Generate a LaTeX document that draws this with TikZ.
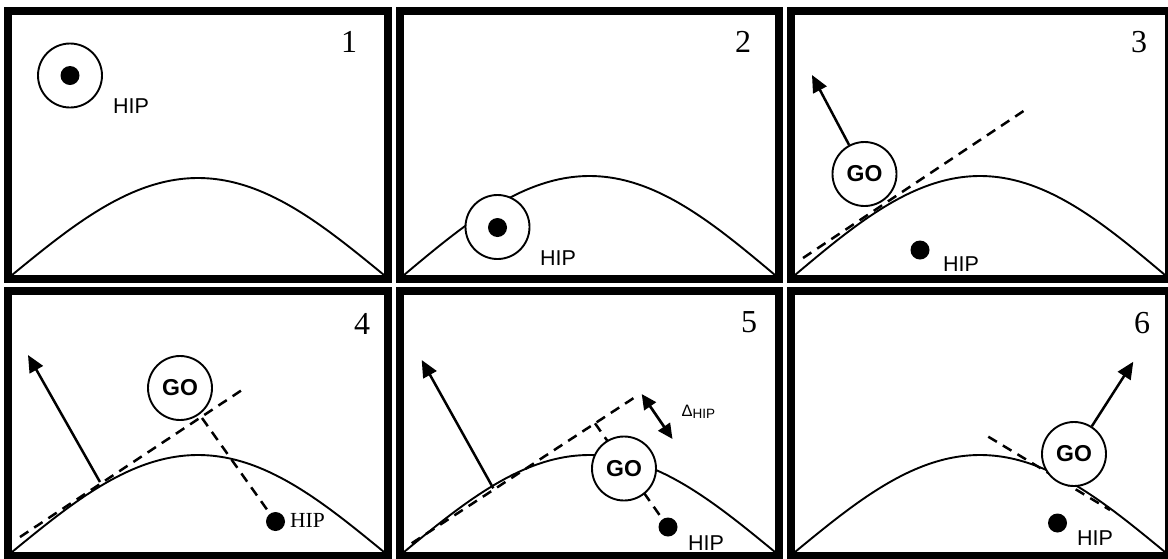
\documentclass[tikz,border=0pt]{standalone}
\usepackage{fontspec}
\setmainfont{Liberation Serif}
\newfontfamily\arialf{Liberation Sans}
\usetikzlibrary{arrows.meta}
\tikzset{
 frame/.style={line width=8pt},
 curve/.style={line width=1.9pt},
 tang/.style={line width=2.5pt, dash pattern=on 10pt off 7pt},
 arr/.style={line width=2.5pt, -{Triangle[length=17pt,width=15pt]}},
 darr/.style={line width=2.7pt, {Triangle[length=15pt,width=14pt]}-{Triangle[length=15pt,width=14pt]}},
 ring/.style={circle, draw, line width=1.9pt, fill=white, minimum size=64pt, inner sep=0pt},
 gocirc/.style={ring, font=\arialf\bfseries\fontsize{23}{23}\selectfont},
 dot/.style={circle, fill=black, minimum size=19pt, inner sep=0pt},
 hipsans/.style={anchor=base west, inner sep=0pt, font=\arialf\fontsize{21.5}{21.5}\selectfont},
 hipserif/.style={anchor=base west, inner sep=0pt, font=\fontsize{21.5}{21.5}\selectfont},
 num/.style={inner sep=0pt, font=\fontsize{32}{32}\selectfont},
}
\begin{document}
\begin{tikzpicture}[x=1pt,y=-1pt]
\useasboundingbox (0,0) rectangle (1168,558);
\fill[white] (0,0) rectangle (1168,558);
% ---------- curves ----------
\draw[curve] plot[domain=0:180, samples=90] ({12+\x/180*372},{275-97*sin(\x)});
\draw[curve] plot[domain=0:180, samples=90] ({404+\x/180*371},{275-99*sin(\x)});
\draw[curve] plot[domain=0:180, samples=90] ({795+\x/180*370},{275-99*sin(\x)});
\draw[curve] plot[domain=0:180, samples=90] ({12+\x/180*372},{552-97*sin(\x)});
\draw[curve] plot[domain=0:180, samples=90] ({404+\x/180*371},{552-97*sin(\x)});
\draw[curve] plot[domain=0:180, samples=90] ({795+\x/180*370},{552-97*sin(\x)});
% ---------- panel 1 ----------
\node[ring] (c1) at (70,75.5) {};
\node[dot] (hip1) at (70,75.5) {};
\node[hipsans] (l1) at (113,113) {HIP};
\node[num] (n1) at (349,42) {1};
% ---------- panel 2 ----------
\node[ring] (c2) at (497.5,227) {};
\node[dot] (hip2) at (497.5,227.5) {};
\node[hipsans] (l2) at (540,265) {HIP};
\node[num] (n2) at (743,42) {2};
% ---------- panel 3 ----------
\coordinate (t3a) at (803,258);
\coordinate (t3b) at (1028,108);
\coordinate (tip3) at (812,75);
\draw[tang] (t3a) -- (t3b);
\node[gocirc] (go3) at (864.5,174) {GO};
\draw[arr] (go3) -- (tip3);
\node[dot] (hip3) at (920,250) {};
\node[hipsans] (l3) at (943,271) {HIP};
\node[num] (n3) at (1139,42) {3};
% ---------- panel 4 ----------
\coordinate (t4a) at (20,537);
\coordinate (t4b) at (245,388);
\coordinate (base4) at (100,482);
\coordinate (tip4) at (28,355);
\coordinate (foot4) at (202,418);
\draw[tang] (t4a) -- (t4b);
\node[dot] (hip4) at (275.5,521.5) {};
\draw[tang] (foot4) -- (hip4);
\draw[arr] (base4) -- (tip4);
\node[gocirc] (go4) at (180,388) {GO};
\node[hipserif] (l4) at (290,527) {HIP};
\node[num] (n4) at (362,324) {4};
% ---------- panel 5 ----------
\coordinate (t5a) at (411.7,543.3);
\coordinate (t5b) at (638.3,395);
\coordinate (base5) at (493.3,488.3);
\coordinate (tip5) at (421.7,360);
\coordinate (foot5) at (595,423.3);
\coordinate (d5a) at (641.7,394);
\coordinate (d5b) at (672.5,439);
\draw[tang] (t5a) -- (t5b);
\node[dot] (hip5) at (668,527) {};
\draw[tang] (foot5) -- (hip5);
\draw[arr] (base5) -- (tip5);
\node[gocirc] (go5) at (624,468.5) {GO};
\draw[darr] (d5a) -- (d5b);
\node[anchor=base west, inner sep=0pt] (dl5) at (681.5,416)
  {{\arialf\fontsize{16.5}{16.5}\selectfont Δ}{\arialf\fontsize{13.5}{13.5}\selectfont\raisebox{-2.5pt}{HIP}}};
\node[hipsans] (l5) at (688,550) {HIP};
\node[num] (n5) at (749,322) {5};
% ---------- panel 6 ----------
\coordinate (t6a) at (988.3,436.7);
\coordinate (t6b) at (1110,510);
\coordinate (tip6) at (1133.3,361.7);
\draw[tang] (t6a) -- (t6b);
\node[gocirc] (go6) at (1074,454) {GO};
\draw[arr] (go6) -- (tip6);
\node[dot] (hip6) at (1057.5,523) {};
\node[hipsans] (l6) at (1077,545) {HIP};
\node[num] (n6) at (1142,323) {6};
% ---------- frames ----------
\draw[frame] (8,10.5) rectangle (388,279);
\draw[frame] (400,10.5) rectangle (779,279);
\draw[frame] (791,10.5) rectangle (1169,279);
\draw[frame] (8,291) rectangle (388,556);
\draw[frame] (400,291) rectangle (779,556);
\draw[frame] (791,291) rectangle (1169,556);
\end{tikzpicture}
\end{document}
